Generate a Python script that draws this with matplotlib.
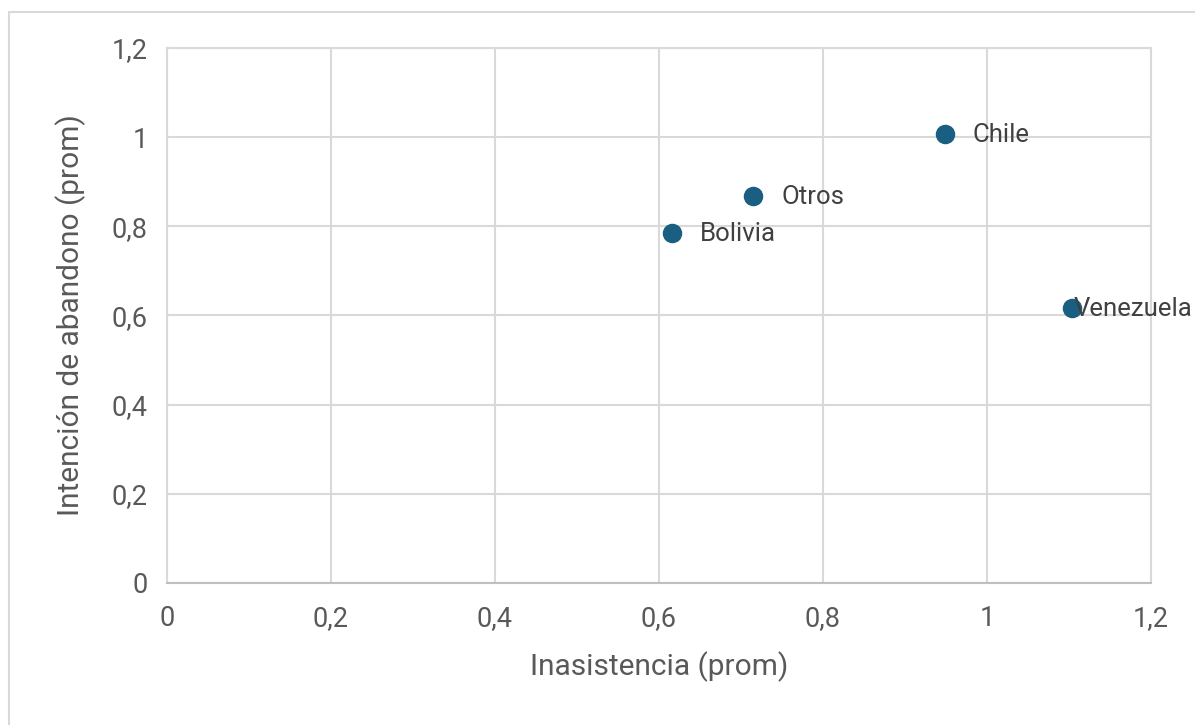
import matplotlib.pyplot as plt
from matplotlib.patches import Rectangle

plt.rcParams['font.family'] = ['Roboto', 'DejaVu Sans']

# datos
paises = ["Bolivia", "Otros", "Chile", "Venezuela"]
inasistencia = [0.616, 0.715, 0.949, 1.104]
abandono = [0.785, 0.868, 1.007, 0.617]
offsets_x = [20, 20, 20, 1]  # separación de la etiqueta (pt)

fig = plt.figure(figsize=(11.95, 7.25), dpi=100)
ax = fig.add_axes([0.1397, 0.1959, 0.8235, 0.7379])

# marco exterior del gráfico
fig.patches.append(Rectangle((9 / 1195, -0.05), 1.1, 1 - 12 / 725 + 0.05,
                             transform=fig.transFigure, fill=False,
                             edgecolor='#d9d9d9', linewidth=1.5))

ax.scatter(inasistencia, abandono, s=170, color='#1a5e82', zorder=3)
for p, x, y, dx in zip(paises, inasistencia, abandono, offsets_x):
    ax.annotate(p, (x, y), xytext=(dx, -1), textcoords='offset points',
                ha='left', va='center', fontsize=18.5, color='#404040',
                annotation_clip=False, zorder=4)

ax.set_xlim(0, 1.2)
ax.set_ylim(0, 1.2)
ticks = [0, 0.2, 0.4, 0.6, 0.8, 1, 1.2]
tick_labels = ["0", "0,2", "0,4", "0,6", "0,8", "1", "1,2"]
ax.set_xticks(ticks, tick_labels)
ax.set_yticks(ticks, tick_labels)
ax.tick_params(length=0, labelsize=19.5, labelcolor='#595959')
ax.tick_params(axis='x', pad=16)
ax.tick_params(axis='y', pad=14)
ax.grid(True, color='#d9d9d9', linewidth=1.5)
ax.set_axisbelow(True)
for s in ax.spines.values():
    s.set_color('#d9d9d9')
    s.set_linewidth(1.5)
ax.spines['bottom'].set_color('#bfbfbf')

ax.set_xlabel("Inasistencia (prom)", fontsize=21.5, color='#595959', labelpad=14)
ax.set_ylabel("Intención de abandono (prom)", fontsize=21.5, color='#595959', labelpad=18)

fig.savefig("out.png", dpi=100)
